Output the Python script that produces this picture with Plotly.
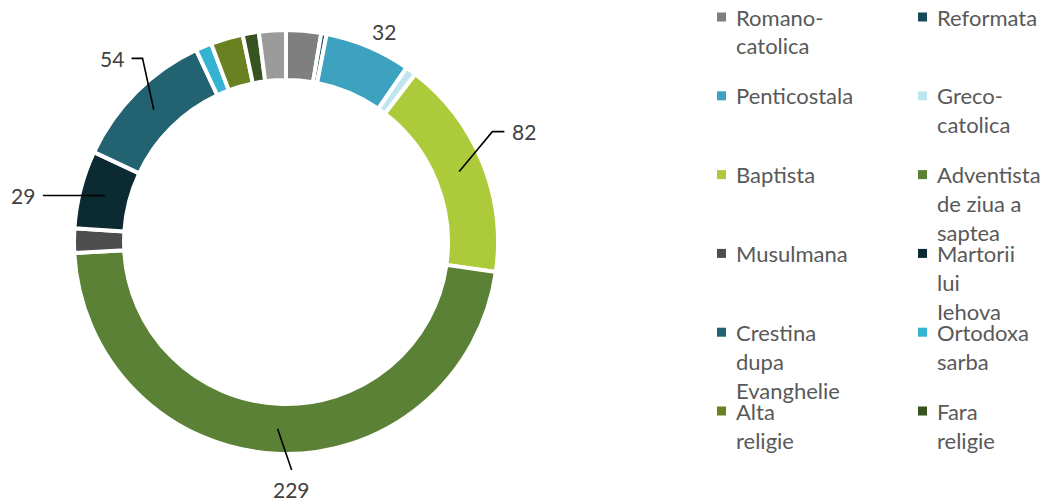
import math
import plotly.graph_objects as go

# ---- data ----
categories = ["Romano-catolica", "Reformata", "Penticostala", "Greco-catolica", "Baptista",
              "Adventista de ziua a saptea", "Musulmana", "Martorii lui Iehova",
              "Crestina dupa Evanghelie", "Ortodoxa sarba", "Alta religie", "Fara religie",
              "Nedeclarata"]
values = [13, 2, 32, 4, 82, 229, 9, 29, 54, 6, 12, 6, 10]
legend_lines = [["Romano-", "catolica"], ["Reformata"], ["Penticostala"], ["Greco-", "catolica"],
                ["Baptista"], ["Adventista", "de ziua a", "saptea"], ["Musulmana"],
                ["Martorii", "lui", "Iehova"], ["Crestina", "dupa", "Evanghelie"],
                ["Ortodoxa", "sarba"], ["Alta", "religie"], ["Fara", "religie"]]
shown_labels = ["Penticostala", "Baptista", "Adventista de ziua a saptea",
                "Martorii lui Iehova", "Crestina dupa Evanghelie"]

colors = ["#7f7f7f", "#164a5a", "#3ca2bf", "#bfe6f0", "#acca3a", "#5a8135", "#4d4d4d",
          "#0b2a31", "#236270", "#36b3d3", "#6a8122", "#375320", "#9b9b9b"]

# ---- layout geometry (pixels) ----
W, H = 1049, 501
CX, CY, R_OUT, R_IN = 286, 242, 212, 162
R_MID = (R_OUT + R_IN) / 2
FONT = "Lato"
TXT = "#595959"
LBL = "#404040"


def px(x, y):
    return x / W, 1 - y / H


def polar(angle_deg, r):
    a = math.radians(angle_deg)
    return CX + r * math.sin(a), CY - r * math.cos(a)


fig = go.Figure(go.Pie(
    labels=categories, values=values, sort=False, direction="clockwise", rotation=0,
    hole=R_IN / R_OUT, textinfo="none", showlegend=False,
    marker=dict(colors=colors, line=dict(color="white", width=4)),
    domain=dict(x=[(CX - R_OUT) / W, (CX + R_OUT) / W],
                y=[(H - CY - R_OUT) / H, (H - CY + R_OUT) / H]),
))

# label styles: angle shift, radius of elbow, horizontal tail, line?
label_style = {
    "Penticostala": dict(da=2, r=232, tail=0, line=False, xa="center", ya="middle", gap=0),
    "Baptista": dict(da=-6, r=234, tail=12, line=True, xa="left", ya="middle", gap=6),
    "Adventista de ziua a saptea": dict(da=-4, r=228, tail=0, line=True, xa="center", ya="top", gap=5),
    "Martorii lui Iehova": dict(da=0, r=R_MID, tail=-62, line=True, xa="right", ya="middle", gap=6),
    "Crestina dupa Evanghelie": dict(da=7, r=233, tail=-11, line=True, xa="right", ya="middle", gap=6),
}

total = sum(values)
shapes = []
annotations = []
cum = 0
for name, v in zip(categories, values):
    mid = (cum + v / 2) / total * 360
    cum += v
    if name not in shown_labels:
        continue
    st = label_style[name]
    sx, sy = polar(mid, R_MID)
    ex, ey = polar(mid + st["da"], st["r"])
    tx, ty = ex + st["tail"], ey
    if st["line"]:
        p0, p1, p2 = px(sx, sy), px(ex, ey), px(tx, ty)
        shapes.append(dict(type="path", xref="paper", yref="paper",
                           path=f"M {p0[0]} {p0[1]} L {p1[0]} {p1[1]} L {p2[0]} {p2[1]}",
                           line=dict(color="black", width=1.6)))
    if st["xa"] == "left":
        ax, ay = tx + st["gap"], ty
    elif st["xa"] == "right":
        ax, ay = tx - st["gap"], ty
    elif st["ya"] == "top":
        ax, ay = tx, ty + st["gap"]
    else:
        ax, ay = tx, ty
    qx, qy = px(ax, ay)
    annotations.append(dict(x=qx, y=qy, xref="paper", yref="paper", text=str(v),
                            showarrow=False, xanchor=st["xa"], yanchor=st["ya"],
                            font=dict(family=FONT, size=21, color=LBL)))

# custom legend (two columns)
COL_MARK = [721.5, 922.5]
COL_TEXT = [734, 935]
ROW_Y0, ROW_DY, LINE_DY, MK = 17, 78.8, 29, 9
for i, lines in enumerate(legend_lines):
    col, row = i % 2, i // 2
    y0 = ROW_Y0 + row * ROW_DY
    a0 = px(COL_MARK[col] - MK / 2, y0 - MK / 2)
    a1 = px(COL_MARK[col] + MK / 2, y0 + MK / 2)
    shapes.append(dict(type="rect", xref="paper", yref="paper", x0=a0[0], y0=a0[1],
                       x1=a1[0], y1=a1[1], fillcolor=colors[i], line=dict(width=0)))
    for k, t in enumerate(lines):
        qx, qy = px(COL_TEXT[col], y0 + k * LINE_DY)
        annotations.append(dict(x=qx, y=qy, xref="paper", yref="paper", text=t,
                                showarrow=False, xanchor="left", yanchor="middle",
                                font=dict(family=FONT, size=22, color=TXT)))

fig.update_layout(width=W, height=H, margin=dict(l=0, r=0, t=0, b=0),
                  paper_bgcolor="white", plot_bgcolor="white",
                  shapes=shapes, annotations=annotations)
fig.write_html("out.html", config={"displayModeBar": False},
               post_script="document.body.style.margin='0px';")
